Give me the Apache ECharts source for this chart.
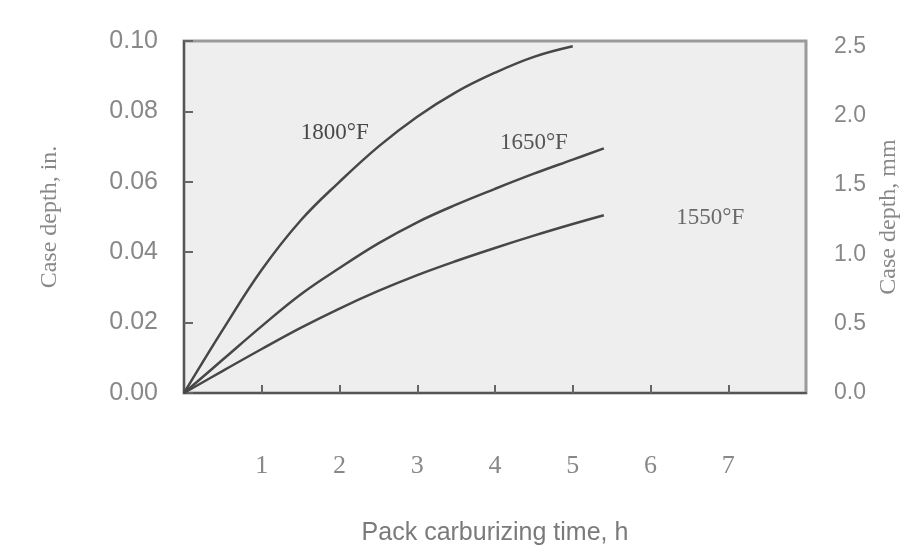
<!DOCTYPE html>
<html>
<head>
<meta charset="utf-8">
<script src="https://cdn.jsdelivr.net/npm/echarts@6/dist/echarts.min.js"></script>
<style>
  html, body { margin: 0; padding: 0; background: #fff; }
  #chart { width: 923px; height: 560px; }
</style>
</head>
<body>
<div id="chart"></div>
<script>
// pack carburizing time, h
const hours = [0, 0.5, 1, 1.5, 2, 2.5, 3, 3.5, 4, 4.5, 5, 5.4];

// case depth, in.
const depth1800 = [0, 0.018, 0.035, 0.049, 0.060, 0.070, 0.0785, 0.0855, 0.091, 0.0955, 0.0985, null];
const depth1650 = [0, 0.0095, 0.019, 0.028, 0.0355, 0.0425, 0.0485, 0.0535, 0.058, 0.0623, 0.0663, 0.0695];
const depth1550 = [0, 0.0063, 0.0125, 0.0185, 0.024, 0.029, 0.0335, 0.0375, 0.0412, 0.0447, 0.048, 0.0505];

const curveNames = ['1800°F', '1650°F', '1550°F'];
// where each curve name sits, [h, in.]
const labelAt = [[1.94, 0.074], [4.5, 0.071], [6.77, 0.0497]];

const inchTicks = [0, 0.02, 0.04, 0.06, 0.08, 0.10];
const mmTicks = [0, 0.5, 1.0, 1.5, 2.0, 2.5];

const myEcharts = echarts.init(document.getElementById('chart'));

function pairs(ys) {
  return hours.map((h, i) => [h, ys[i]]).filter(p => p[1] !== null);
}

function curve(name, ys, at, labelColor) {
  return {
    name: name,
    type: 'line',
    data: pairs(ys),
    smooth: 0.4,
    showSymbol: false,
    lineStyle: { color: '#474747', width: 2.5 },
    itemStyle: { color: '#474747' },
    silent: true,
    markPoint: {
      symbol: 'circle',
      symbolSize: 1,
      itemStyle: { color: 'rgba(0,0,0,0)' },
      label: {
        show: true,
        position: 'inside',
        formatter: name,
        fontFamily: 'Liberation Serif',
        fontSize: 23,
        color: labelColor,
      },
      data: [{ coord: at }],
    },
  };
}

const option = {
  animation: false,
  grid: {
    left: 184,
    right: 117,
    top: 41,
    bottom: 167,
    show: true,
    backgroundColor: '#eeeeee',
    borderColor: '#9a9a9a',
    borderWidth: 3,
  },
  xAxis: {
    type: 'value',
    min: 0,
    max: 8,
    interval: 1,
    name: 'Pack carburizing time, h',
    nameLocation: 'middle',
    nameGap: 128,
    nameTextStyle: { fontFamily: 'Liberation Sans', fontSize: 25, color: '#7a7a7a' },
    axisLine: { show: true, lineStyle: { color: '#555', width: 2 } },
    axisTick: { show: true, inside: true, length: 8, lineStyle: { color: '#666', width: 2 } },
    axisLabel: {
      margin: 60,
      showMinLabel: false,
      showMaxLabel: false,
      fontFamily: 'Liberation Serif',
      fontSize: 26,
      color: '#888',
    },
    splitLine: { show: false },
  },
  yAxis: [
    {
      type: 'value',
      min: 0,
      max: 0.1,
      interval: 0.02,
      name: 'Case depth, in.',
      nameLocation: 'middle',
      nameGap: 122,
      nameTextStyle: { fontFamily: 'Liberation Serif', fontSize: 24, color: '#888' },
      axisLine: { show: true, lineStyle: { color: '#555', width: 2 } },
      axisTick: { show: true, inside: true, length: 9, lineStyle: { color: '#666', width: 2 } },
      axisLabel: {
        margin: 26,
        formatter: v => inchTicks.includes(+v.toFixed(2)) ? v.toFixed(2) : '',
        fontFamily: 'Liberation Sans Narrow, Liberation Sans',
        fontSize: 25,
        color: '#888',
      },
      splitLine: { show: false },
    },
    {
      type: 'value',
      min: 0,
      max: 2.54,
      interval: 0.5,
      position: 'right',
      name: 'Case depth, mm',
      nameLocation: 'middle',
      nameGap: 62,
      nameRotate: 90,
      nameTextStyle: { fontFamily: 'Liberation Serif', fontSize: 24, color: '#888' },
      axisLine: { show: false },
      axisTick: { show: false },
      axisLabel: {
        margin: 28,
        showMaxLabel: false,
        formatter: v => mmTicks.includes(v) ? v.toFixed(1) : '',
        fontFamily: 'Liberation Sans Narrow, Liberation Sans',
        fontSize: 23,
        color: '#888',
      },
      splitLine: { show: false },
    },
  ],
  series: [
    curve(curveNames[0], depth1800, labelAt[0], '#474747'),
    curve(curveNames[1], depth1650, labelAt[1], '#555'),
    curve(curveNames[2], depth1550, labelAt[2], '#6a6a6a'),
  ],
};

myEcharts.setOption(option);
</script>
</body>
</html>
